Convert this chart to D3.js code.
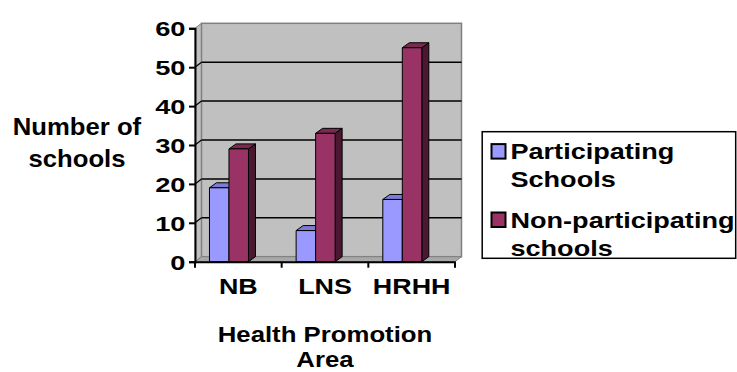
<!DOCTYPE html>
<html>
<head>
<meta charset="utf-8">
<script src="https://cdn.jsdelivr.net/npm/d3@7"></script>
<style>
  html, body { margin: 0; padding: 0; background: #fff; }
  svg { display: block; }
  text { font-family: Arial, "Liberation Sans", sans-serif; font-weight: bold; fill: #000; }
</style>
</head>
<body>
<svg id="chart" width="737" height="372"></svg>
<script>
// Health promotion areas and school counts per area
const categories = ["NB", "LNS", "HRHH"];
const seriesNames = ["Participating Schools", "Non-participating schools"];
const participating = [19, 8, 16];
const nonParticipating = [29, 33, 55];
const yTicks = [0, 10, 20, 30, 40, 50, 60];
const legendLines = [["Participating", "Schools"], ["Non-participating", "schools"]];
const xTitleLines = ["Health Promotion", "Area"];
const yTitleLines = ["Number of", "schools"];

const colors = {
  face: ["#9999ff", "#993366"],
  top: ["#7c7cd6", "#7a2950"],
  side: ["#5c5c99", "#4a1830"]
};

const svg = d3.select("#chart");

// Plot frame (front edges) and 3D depth offset
const plotLeft = 195, plotRight = 455, plotBottom = 261.7, plotTop = 28.3;
const depth = { dx: 6.5, dy: -5 };
const barDepth = { dx: 7, dy: -5 };

const y = d3.scaleLinear().domain([0, 60]).range([plotBottom, plotTop]);
const x0 = d3.scaleBand().domain(categories).range([plotLeft, plotRight]).padding(0);
const x1 = d3.scaleBand().domain(seriesNames)
  .range([x0.bandwidth() * 0.167, x0.bandwidth() * 0.617]).padding(0);

const pts = a => a.map(p => p.join(",")).join(" ");

// Left side wall
svg.append("polygon")
  .attr("points", pts([[plotLeft, y(60)], [plotLeft + depth.dx, y(60) + depth.dy],
                       [plotLeft + depth.dx, y(0) + depth.dy], [plotLeft, y(0)]]))
  .attr("fill", "#c0c0c0").attr("stroke", "#808080").attr("stroke-width", 1);

// Back wall
svg.append("rect")
  .attr("x", plotLeft + depth.dx).attr("y", y(60) + depth.dy)
  .attr("width", plotRight - plotLeft).attr("height", y(0) - y(60))
  .attr("fill", "#c0c0c0").attr("stroke", "#808080").attr("stroke-width", 1.5);

// Floor
svg.append("polygon")
  .attr("points", pts([[plotLeft, y(0)], [plotLeft + depth.dx, y(0) + depth.dy],
                       [plotRight + depth.dx, y(0) + depth.dy], [plotRight, y(0)]]))
  .attr("fill", "#a8a8a8").attr("stroke", "#808080").attr("stroke-width", 1);

// Gridlines on back wall and side wall
const grid = yTicks.filter(v => v > 0 && v < 60);
svg.append("g").selectAll("line").data(grid).join("line")
  .attr("x1", plotLeft + depth.dx).attr("x2", plotRight + depth.dx)
  .attr("y1", d => y(d) + depth.dy).attr("y2", d => y(d) + depth.dy)
  .attr("stroke", "#000").attr("stroke-width", 1.5);
svg.append("g").selectAll("line").data(grid).join("line")
  .attr("x1", plotLeft).attr("x2", plotLeft + depth.dx)
  .attr("y1", d => y(d)).attr("y2", d => y(d) + depth.dy)
  .attr("stroke", "#000").attr("stroke-width", 1.2);

// Bars
const data = categories.map((c, i) => ({ cat: c, values: [participating[i], nonParticipating[i]] }));
const bars = svg.append("g");
data.forEach(d => {
  d.values.forEach((v, s) => {
    const bx = x0(d.cat) + x1(seriesNames[s]);
    const bw = x1.bandwidth();
    const by = y(v), b0 = y(0);
    const g = bars.append("g").attr("stroke", "#000").attr("stroke-width", 1).attr("stroke-linejoin", "round");
    // side face
    g.append("polygon").attr("fill", colors.side[s])
      .attr("points", pts([[bx + bw, by], [bx + bw + barDepth.dx, by + barDepth.dy],
                           [bx + bw + barDepth.dx, b0 + barDepth.dy], [bx + bw, b0]]));
    // top face
    g.append("polygon").attr("fill", colors.top[s])
      .attr("points", pts([[bx, by], [bx + barDepth.dx, by + barDepth.dy],
                           [bx + bw + barDepth.dx, by + barDepth.dy], [bx + bw, by]]));
    // front face
    g.append("rect").attr("fill", colors.face[s])
      .attr("x", bx).attr("y", by).attr("width", bw).attr("height", b0 - by);
  });
});

// Y axis
const yAxis = d3.axisLeft(y).tickValues(yTicks).tickSize(6).tickPadding(3).tickFormat(d3.format("d"));
const gy = svg.append("g").attr("transform", `translate(${plotLeft},0)`).call(yAxis);
gy.select(".domain").attr("stroke", "#000").attr("stroke-width", 2);
gy.selectAll(".tick line").attr("stroke", "#000").attr("stroke-width", 2);
gy.selectAll(".tick text")
  .attr("font-size", 21).attr("font-family", "Arial, 'Liberation Sans', sans-serif")
  .attr("font-weight", "bold").attr("fill", "#000")
  .attr("dy", "0.36em").attr("x", 0)
  .attr("transform", "translate(-9.5,0) scale(1.3,1)");

// X axis
const xAxis = d3.axisBottom(x0).tickSize(0).tickFormat(d => d);
const gx = svg.append("g").attr("transform", `translate(0,${plotBottom})`).call(xAxis);
gx.select(".domain").attr("stroke", "#000").attr("stroke-width", 2);
gx.selectAll(".tick text")
  .attr("font-size", 21.5).attr("font-family", "Arial, 'Liberation Sans', sans-serif")
  .attr("font-weight", "bold").attr("fill", "#000")
  .attr("y", 0).attr("dy", 0)
  .attr("transform", "translate(0,32.6) scale(1.25,1)");
// category boundary ticks
const bounds = categories.map(c => x0(c)).concat([plotRight]);
gx.selectAll("line.bound").data(bounds).join("line").attr("class", "bound")
  .attr("x1", d => d).attr("x2", d => d).attr("y1", 0).attr("y2", 6)
  .attr("stroke", "#000").attr("stroke-width", 2);

// Axis titles
const xTitle = svg.append("text").attr("text-anchor", "middle")
  .attr("font-size", 23).attr("transform", "translate(325,0) scale(1.12,1)");
xTitleLines.forEach((t, i) => xTitle.append("tspan").attr("x", 0).attr("y", 341.7 + i * 25).text(t));

const yTitle = svg.append("text").attr("text-anchor", "middle")
  .attr("font-size", 24).attr("transform", "translate(77,0) scale(1.07,1)");
yTitleLines.forEach((t, i) => yTitle.append("tspan").attr("x", 0).attr("y", 135 + i * 31.7).text(t));

// Legend
const legend = svg.append("g");
legend.append("rect").attr("x", 482.2).attr("y", 131.7).attr("width", 253.5).attr("height", 126.6)
  .attr("fill", "#fff").attr("stroke", "#000").attr("stroke-width", 1.5);
const legendBase = [159.3, 227.7];
legendLines.forEach((lines, s) => {
  const baseY = legendBase[s];
  legend.append("rect").attr("x", 491.5).attr("y", baseY - 15.2).attr("width", 14).attr("height", 14.5)
    .attr("fill", colors.face[s]).attr("stroke", "#000").attr("stroke-width", 2);
  const t = legend.append("text").attr("font-size", 22)
    .attr("transform", "translate(510.5,0) scale(1.23,1)");
  lines.forEach((l, i) => t.append("tspan").attr("x", 0).attr("y", baseY + i * 28).text(l));
});
</script>
</body>
</html>
